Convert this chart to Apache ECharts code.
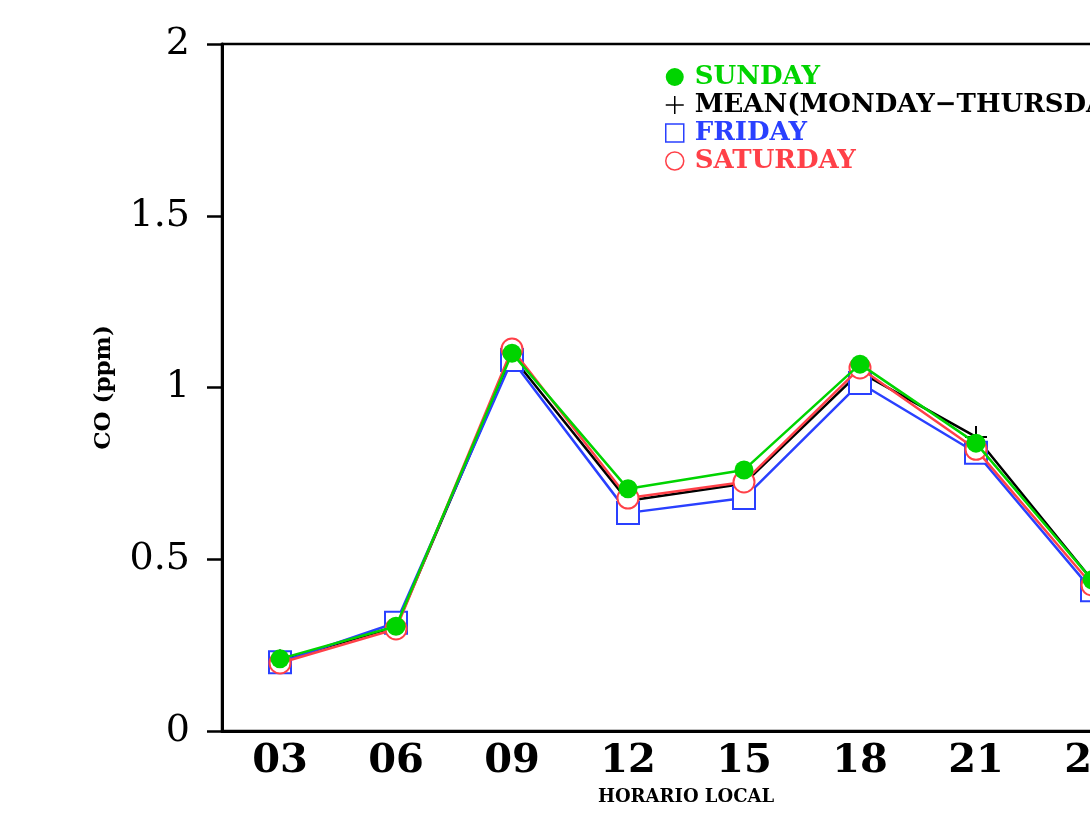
<!DOCTYPE html>
<html>
<head>
<meta charset="utf-8">
<script src="https://cdn.jsdelivr.net/npm/echarts@6/dist/echarts.min.js"></script>
<style>html,body{margin:0;padding:0;background:#fff}#c{width:1090px;height:819px}</style>
</head>
<body>
<div id="c"></div>
<script>
const hours = ['03','06','09','12','15','18','21','24'];
const sunday   = [0.21, 0.305, 1.10, 0.705, 0.76, 1.068, 0.838, 0.44];
const meanMonThu = [0.205, 0.303, 1.09, 0.67, 0.72, 1.045, 0.856, 0.44];
const friday   = [0.20, 0.315, 1.08, 0.635, 0.678, 1.013, 0.81, 0.41];
const saturday = [0.198, 0.297, 1.112, 0.678, 0.725, 1.057, 0.82, 0.425];
const yTicks = [0, 0.5, 1, 1.5, 2];
const names = ['SUNDAY', 'MEAN(MONDAY\u2212THURSDAY)', 'FRIDAY', 'SATURDAY'];

const GREEN = '#00d400', BLACK = '#000000', BLUE = '#2a40ff', RED = '#ff4048';
const PLUS = 'path://M0,5L10,5M5,0L5,10';
const SQUARE = 'path://M0,0L10,0L10,10L0,10Z';
const serif = '"DejaVu Serif", "Liberation Serif", serif';

const chart = echarts.init(document.getElementById('c'), null, {renderer: 'canvas'});
chart.setOption({
  animation: false,
  backgroundColor: '#fff',
  grid: {left: 222, top: 44, width: 928, bottom: 88, outerBoundsMode: 'none', show: true, borderColor: '#000', borderWidth: 2.5, backgroundColor: 'transparent'},
  legend: {
    orient: 'vertical', left: 660, top: 59, itemWidth: 30, itemHeight: 18, itemGap: 2,
    symbolKeepAspect: true,
    textStyle: {fontFamily: serif, fontWeight: 'bold', fontSize: 26, lineHeight: 20},
    data: [
      {name: names[0], icon: 'circle', textStyle: {color: GREEN}},
      {name: names[1], icon: PLUS, itemStyle: {color: BLACK, borderColor: BLACK, borderWidth: 1.5}, textStyle: {color: BLACK}},
      {name: names[2], icon: SQUARE, itemStyle: {color: '#fff', borderColor: BLUE, borderWidth: 1.5}, textStyle: {color: BLUE}},
      {name: names[3], icon: 'circle', itemStyle: {color: '#fff', borderColor: RED, borderWidth: 1.5}, textStyle: {color: RED}}
    ]
  },
  xAxis: {
    type: 'category', data: hours, boundaryGap: true,
    name: 'HORARIO LOCAL', nameLocation: 'middle', nameGap: 57,
    nameTextStyle: {fontFamily: serif, fontWeight: 'bold', fontSize: 18, color: '#000'},
    axisLine: {lineStyle: {color: '#000', width: 3}},
    axisTick: {show: false},
    axisLabel: {fontFamily: serif, fontWeight: 'bold', fontSize: 40, color: '#000', margin: 11},
    splitLine: {show: false}
  },
  yAxis: {
    type: 'value', min: 0, max: 2, interval: 0.5,
    name: 'CO (ppm)', nameLocation: 'middle', nameGap: 106, nameRotate: 90,
    nameTextStyle: {fontFamily: serif, fontWeight: 'bold', fontSize: 23, color: '#000'},
    axisLine: {show: true, lineStyle: {color: '#000', width: 3}},
    axisTick: {show: true, length: 15, lineStyle: {color: '#000', width: 2.5}},
    axisLabel: {fontFamily: serif, fontSize: 38, color: '#000', margin: 32,
      formatter: v => (yTicks.indexOf(v) >= 0 ? String(v) : '')},
    splitLine: {show: false}
  },
  series: [
    {name: names[1], type: 'line', data: meanMonThu, symbol: PLUS, symbolSize: 22, z: 2,
      lineStyle: {color: BLACK, width: 2.5}, itemStyle: {color: BLACK, borderColor: BLACK, borderWidth: 2}},
    {name: names[2], type: 'line', data: friday, symbol: 'emptyRect', symbolSize: 22, z: 3,
      lineStyle: {color: BLUE, width: 2.5}, itemStyle: {color: BLUE, borderColor: BLUE, borderWidth: 2.5}},
    {name: names[3], type: 'line', data: saturday, symbol: 'emptyCircle', symbolSize: 21, z: 4,
      lineStyle: {color: RED, width: 2.5}, itemStyle: {color: RED, borderColor: RED, borderWidth: 2.5}},
    {name: names[0], type: 'line', data: sunday, symbol: 'circle', symbolSize: 19, z: 5,
      lineStyle: {color: GREEN, width: 2.5}, itemStyle: {color: GREEN}}
  ]
});
</script>
</body>
</html>
